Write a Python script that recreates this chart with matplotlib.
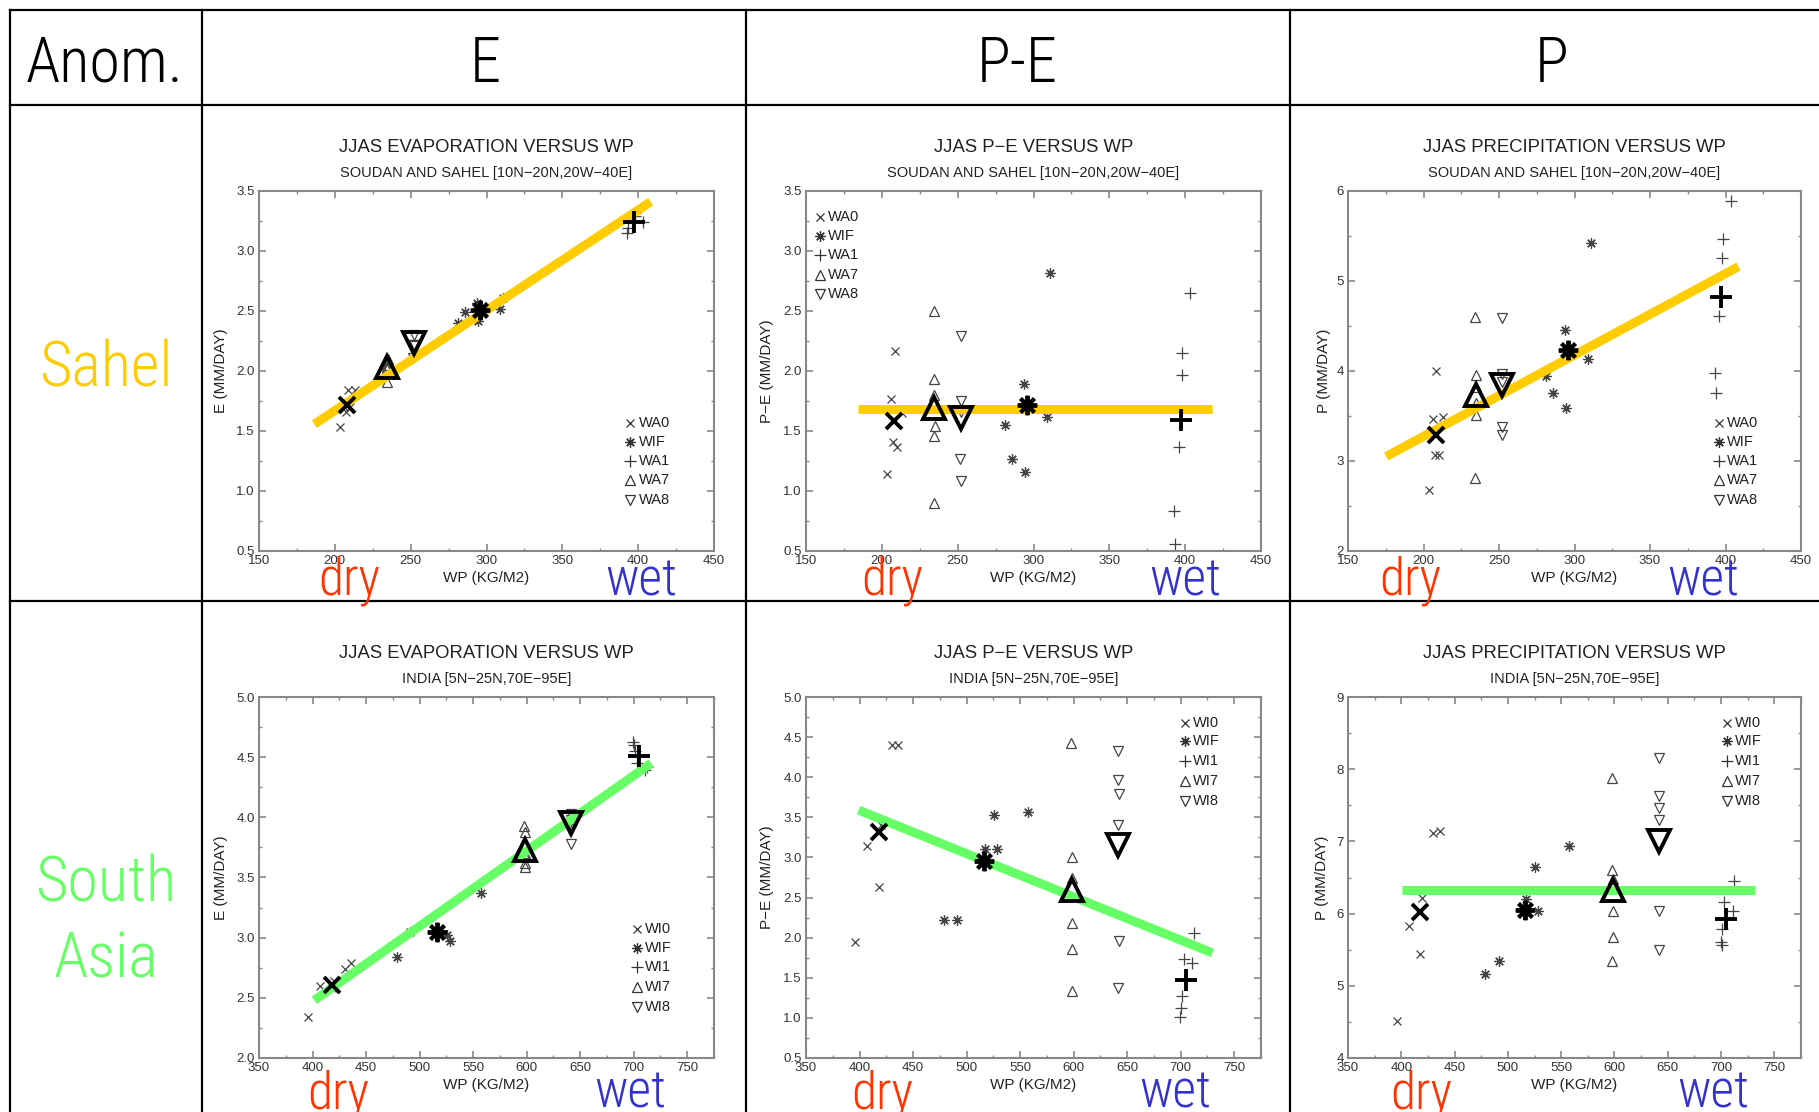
import matplotlib
matplotlib.use('Agg')
import matplotlib.pyplot as plt
from matplotlib.lines import Line2D
from matplotlib.ticker import MultipleLocator, FormatStrFormatter

W, H = 1819, 1112

# ---- data ----
sahel_models = ['WA0', 'WIF', 'WA1', 'WA7', 'WA8']
india_models = ['WI0', 'WIF', 'WI1', 'WI7', 'WI8']

# Sahel members (WP in KG/M2, anomalies in MM/DAY)
sahel_wp = [[203.6, 206.0, 207.3, 208.4, 210.0, 213.0],
            [281.0, 285.5, 294.0, 294.5, 309.0, 311.0],
            [392.8, 393.5, 395.8, 397.6, 398.2, 403.5],
            [234.2, 234.5, 234.6, 234.8, 234.6, 234.4],
            [252.0, 252.2, 251.8, 252.0, 252.3]]
sahel_e = [[1.53, 1.70, 1.66, 1.84, 1.70, 1.84],
           [2.40, 2.49, 2.57, 2.42, 2.52, 2.61],
           [3.15, 3.19, 3.24, 3.29, 3.32, 3.24],
           [2.10, 2.03, 2.02, 2.10, 2.05, 1.91],
           [2.30, 2.22, 2.11, 2.21, 2.22]]
sahel_pe = [[1.14, 1.77, 1.41, 2.17, 1.37, 1.65],
            [1.55, 1.27, 1.89, 1.16, 1.62, 2.82],
            [0.83, 0.56, 1.37, 1.97, 2.15, 2.65],
            [2.50, 1.93, 1.80, 1.54, 1.46, 0.90],
            [2.29, 1.75, 1.27, 1.08, 1.66]]
sahel_p = [[2.68, 3.47, 3.07, 4.00, 3.07, 3.49],
           [3.94, 3.76, 4.45, 3.59, 4.13, 5.42],
           [3.98, 3.75, 4.61, 5.26, 5.47, 5.89],
           [4.60, 3.96, 3.82, 3.64, 3.51, 2.81],
           [4.59, 3.97, 3.38, 3.29, 3.88]]
# ensemble means (bold symbols)
sahel_wp_mean = [208.0, 295.5, 397.2, 234.6, 252.0]
sahel_e_mean = [1.72, 2.51, 3.24, 2.03, 2.23]
sahel_pe_mean = [1.58, 1.72, 1.59, 1.69, 1.61]
sahel_p_mean = [3.29, 4.23, 4.82, 3.73, 3.84]

# India members
india_wp = [[395.8, 406.9, 418.0, 419.8, 430.0, 436.0],
            [478.8, 491.2, 516.8, 525.5, 528.2, 557.0],
            [699.8, 700.5, 701.0, 703.0, 711.0, 712.5],
            [597.6, 598.0, 598.3, 598.5, 598.2, 598.0],
            [641.5, 641.8, 642.0, 641.6, 641.9, 641.7]]
india_e = [[2.34, 2.60, 2.58, 2.64, 2.74, 2.79],
           [2.84, 3.05, 3.05, 3.02, 2.97, 3.37],
           [4.63, 4.60, 4.55, 4.45, 4.39, 4.42],
           [3.93, 3.88, 3.70, 3.62, 3.68, 3.59],
           [4.03, 3.78, 3.95, 3.98, 3.92, 3.90]]
india_pe = [[1.94, 3.14, 2.63, 3.41, 4.40, 4.40],
            [2.22, 2.22, 3.10, 3.53, 3.10, 3.57],
            [1.01, 1.12, 1.27, 1.74, 1.68, 2.06],
            [4.43, 3.01, 2.75, 2.18, 1.86, 1.34],
            [4.33, 3.97, 3.79, 3.40, 1.96, 1.37]]
india_p = [[4.51, 5.83, 5.44, 6.21, 7.12, 7.14],
           [5.16, 5.34, 6.20, 6.64, 6.04, 6.94],
           [5.60, 5.56, 5.78, 6.16, 6.03, 6.45],
           [7.88, 6.61, 6.48, 6.03, 5.67, 5.34],
           [8.15, 7.63, 7.46, 7.30, 6.03, 5.50]]
india_wp_mean = [418.0, 516.5, 704.8, 598.2, 641.8]
india_e_mean = [2.61, 3.05, 4.51, 3.73, 3.95]
india_pe_mean = [3.32, 2.96, 1.47, 2.59, 3.15]
india_p_mean = [6.02, 6.05, 5.93, 6.32, 7.01]

# fitted lines (end points)
sahel_e_line = ([186.5, 408.2], [1.557, 3.41])
sahel_pe_line = ([184.2, 417.9], [1.68, 1.68])
sahel_p_line = ([175.3, 408.6], [3.05, 5.16])
india_e_line = ([401.7, 716.4], [2.48, 4.45])
india_pe_line = ([399.1, 729.6], [3.59, 1.81])
india_p_line = ([400.7, 731.5], [6.32, 6.32])

col_heads = ['Anom.', 'E', 'P-E', 'P']

NARROW = ['Roboto Condensed', 'Liberation Sans Narrow', 'DejaVu Sans']
PLOTF = ['Liberation Sans', 'DejaVu Sans']
YELLOW = '#FFCC00'
GREEN = '#66FF66'
DRY = '#FF3300'
WET = '#3333CC'

fig = plt.figure(figsize=(W / 100, H / 100), dpi=100)


def fx(px):
    return px / W


def fy(py):
    return 1 - py / H


def hline(y, x0, x1):
    fig.add_artist(Line2D([fx(x0), fx(x1)], [fy(y), fy(y)], color='black', lw=1.6))


def vline(x, y0, y1):
    fig.add_artist(Line2D([fx(x), fx(x)], [fy(y0), fy(y1)], color='black', lw=1.6))


def big_text(x, y, s, size, color):
    fig.text(fx(x), fy(y), s, ha='center', va='baseline', fontsize=size,
             family=NARROW, fontstretch='condensed', fontweight='light',
             color=color, zorder=10)


# table grid
hline(10, 10, W)
hline(105, 10, W)
hline(601, 10, W)
for xv in [10, 202, 746, 1290]:
    vline(xv, 10, H)

for txt, xc in zip(col_heads, [104, 485, 1017, 1552]):
    big_text(xc, 82, txt, 45, 'black')
big_text(106, 386, 'Sahel', 45, YELLOW)
big_text(106, 901, 'South', 45, GREEN)
big_text(106, 978, 'Asia', 45, GREEN)

markers = ['x', (8, 2, 0), '+', '^', 'v']
small_ms = [6, 7.5, 8, 7.5, 7.5]
big_ms = [12, 14, 16, 16, 16]
GRAY = '#444444'

panels = [
    dict(wp=sahel_wp, y=sahel_e, wpm=sahel_wp_mean, ym=sahel_e_mean, models=sahel_models,
         rect=(259, 714, 191, 551), xlim=(150, 450), ylim=(0.5, 3.5), ymaj=0.5, fmt='%.1f',
         ylab='E (MM/DAY)', title='JJAS EVAPORATION VERSUS WP',
         sub='SOUDAN AND SAHEL [10N\u221220N,20W\u221240E]',
         leg=(0.816, [0.356, 0.303, 0.25, 0.196, 0.143]), line=sahel_e_line, lc=YELLOW,
         dry=349, wet=641, base=595, ylx=221),
    dict(wp=sahel_wp, y=sahel_pe, wpm=sahel_wp_mean, ym=sahel_pe_mean, models=sahel_models,
         rect=(806, 1261, 191, 551), xlim=(150, 450), ylim=(0.5, 3.5), ymaj=0.5, fmt='%.1f',
         ylab='P\u2212E (MM/DAY)', title='JJAS P\u2212E VERSUS WP',
         sub='SOUDAN AND SAHEL [10N\u221220N,20W\u221240E]',
         leg=(0.031, [0.928, 0.875, 0.821, 0.768, 0.715]), line=sahel_pe_line, lc=YELLOW,
         dry=892, wet=1185, base=595, ylx=767),
    dict(wp=sahel_wp, y=sahel_p, wpm=sahel_wp_mean, ym=sahel_p_mean, models=sahel_models,
         rect=(1348, 1801, 191, 551), xlim=(150, 450), ylim=(2, 6), ymaj=1, fmt='%d',
         ylab='P (MM/DAY)', title='JJAS PRECIPITATION VERSUS WP',
         sub='SOUDAN AND SAHEL [10N\u221220N,20W\u221240E]',
         leg=(0.819, [0.356, 0.303, 0.25, 0.196, 0.143]), line=sahel_p_line, lc=YELLOW,
         dry=1410, wet=1703, base=595, ylx=1324),
    dict(wp=india_wp, y=india_e, wpm=india_wp_mean, ym=india_e_mean, models=india_models,
         rect=(259, 714, 697, 1058), xlim=(350, 775), ylim=(2.0, 5.0), ymaj=0.5, fmt='%.1f',
         ylab='E (MM/DAY)', title='JJAS EVAPORATION VERSUS WP',
         sub='INDIA [5N\u221225N,70E\u221295E]',
         leg=(0.831, [0.358, 0.305, 0.251, 0.196, 0.142]), line=india_e_line, lc=GREEN,
         dry=338, wet=630, base=1108, ylx=221),
    dict(wp=india_wp, y=india_pe, wpm=india_wp_mean, ym=india_pe_mean, models=india_models,
         rect=(806, 1261, 697, 1058), xlim=(350, 775), ylim=(0.5, 5.0), ymaj=0.5, fmt='%.1f',
         ylab='P\u2212E (MM/DAY)', title='JJAS P\u2212E VERSUS WP',
         sub='INDIA [5N\u221225N,70E\u221295E]',
         leg=(0.832, [0.929, 0.877, 0.822, 0.767, 0.713]), line=india_pe_line, lc=GREEN,
         dry=882, wet=1175, base=1108, ylx=767),
    dict(wp=india_wp, y=india_p, wpm=india_wp_mean, ym=india_p_mean, models=india_models,
         rect=(1348, 1801, 697, 1058), xlim=(350, 775), ylim=(4, 9), ymaj=1, fmt='%d',
         ylab='P (MM/DAY)', title='JJAS PRECIPITATION VERSUS WP',
         sub='INDIA [5N\u221225N,70E\u221295E]',
         leg=(0.836, [0.929, 0.877, 0.822, 0.767, 0.713]), line=india_p_line, lc=GREEN,
         dry=1421, wet=1713, base=1108, ylx=1322),
]

for pn in panels:
    l, r, t, b = pn['rect']
    ax = fig.add_axes([fx(l), fy(b), (r - l) / W, (b - t) / H])
    ax.set_xlim(*pn['xlim'])
    ax.set_ylim(*pn['ylim'])
    ax.xaxis.set_major_locator(MultipleLocator(50))
    ax.xaxis.set_minor_locator(MultipleLocator(25))
    ax.yaxis.set_major_locator(MultipleLocator(pn['ymaj']))
    ax.yaxis.set_minor_locator(MultipleLocator(pn['ymaj'] / 2))
    ax.yaxis.set_major_formatter(FormatStrFormatter(pn['fmt']))
    ax.tick_params(which='both', direction='in', top=True, right=True, color='#888888',
                   labelsize=9.5, labelcolor='#333333', pad=3)
    ax.tick_params(which='major', length=5, width=1.2)
    ax.tick_params(which='minor', length=2.5, width=1.0)
    for lab in ax.get_xticklabels() + ax.get_yticklabels():
        lab.set_family(PLOTF)
    for sp in ax.spines.values():
        sp.set_color('#888888')
        sp.set_linewidth(1.5)

    for i in range(5):
        ax.plot(pn['wp'][i], pn['y'][i], linestyle='none', marker=markers[i],
                ms=small_ms[i], mec=GRAY, mfc='none', mew=0.9, zorder=2)
    ax.plot(pn['line'][0], pn['line'][1], color=pn['lc'], lw=6.5,
            solid_capstyle='butt', zorder=3)
    for i in range(5):
        ax.plot([pn['wpm'][i]], [pn['ym'][i]], linestyle='none', marker=markers[i],
                ms=big_ms[i], mec='black', mfc='none', mew=2.8, zorder=4)

    lx, lys = pn['leg']
    for i in range(5):
        ax.plot([lx], [lys[i]], transform=ax.transAxes, linestyle='none',
                marker=markers[i], ms=small_ms[i], mec='#333333', mfc='none', mew=0.9,
                clip_on=False, zorder=5)
        ax.text(lx + 0.018, lys[i], pn['models'][i], transform=ax.transAxes,
                ha='left', va='center', fontsize=10.5, family=PLOTF, color='#222222')

    xc = (l + r) / 2
    fig.text(fx(xc), fy(t - 44), pn['title'], ha='center', va='center', fontsize=13.3,
             family=PLOTF, color='#222222')
    fig.text(fx(xc), fy(t - 18), pn['sub'], ha='center', va='center', fontsize=10.5,
             family=PLOTF, color='#222222')
    fig.text(fx(xc), fy(b + 27), 'WP (KG/M2)', ha='center', va='center', fontsize=11,
             family=PLOTF, color='#222222')
    fig.text(fx(pn['ylx']), fy((t + b) / 2), pn['ylab'], ha='center', va='center',
             rotation=90, fontsize=11, family=PLOTF, color='#222222')
    big_text(pn['dry'], pn['base'], 'dry', 37, DRY)
    big_text(pn['wet'], pn['base'], 'wet', 37, WET)

fig.savefig('out.png', dpi=100)
